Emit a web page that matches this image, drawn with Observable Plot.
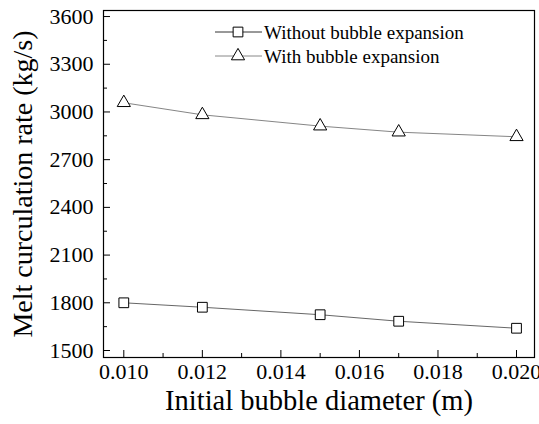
<!DOCTYPE html>
<html>
<head>
<meta charset="utf-8">
<script src="https://cdn.jsdelivr.net/npm/d3@7"></script>
<script src="https://cdn.jsdelivr.net/npm/@observablehq/plot@0.6"></script>
<style>
  body { margin: 0; background: #fff; }
  #wrap { position: relative; width: 539px; height: 424px; }
  #legend { position: absolute; left: 0; top: 0; }
  #wrap svg text { font-family: 'Liberation Serif', 'Times New Roman', serif; font-variant-numeric: normal; }
</style>
</head>
<body>
<div id="wrap"></div>
<script>
const diameters = [0.010, 0.012, 0.015, 0.017, 0.020];
const withoutExpansion = [1800, 1772, 1725, 1684, 1640];
const withExpansion = [3058, 2982, 2911, 2873, 2844];
const seriesNames = ["Without bubble expansion", "With bubble expansion"];
const xTicks = [0.010, 0.012, 0.014, 0.016, 0.018, 0.020];
const xMinorTicks = [0.011, 0.013, 0.015, 0.017, 0.019];
const yTicks = [1500, 1800, 2100, 2400, 2700, 3000, 3300, 3600];
const yMinorTicks = [1650, 1950, 2250, 2550, 2850, 3150, 3450];

const rowsA = diameters.map((d, i) => ({x: d, y: withoutExpansion[i]}));
const rowsB = diameters.map((d, i) => ({x: d, y: withExpansion[i]}));

const W = 539, H = 424, mL = 103, mR = 5, mT = 10, mB = 67;
const fw = W - mL - mR, fh = H - mT - mB;
const font = "'Liberation Serif', 'Times New Roman', serif";

const chart = Plot.plot({
  width: W, height: H,
  marginLeft: mL, marginRight: mR, marginTop: mT, marginBottom: mB,
  style: {fontFamily: font, fontSize: "22px", color: "#000", background: "#fff"},
  x: {domain: [0.009483, 0.020458]},
  y: {domain: [1456, 3638]},
  marks: [
    Plot.axisX(xTicks, {tickSize: 0, tickPadding: 6, tickFormat: d3.format(".3f"), fontSize: 22, fontFamily: font, fontVariant: "normal", label: null}),
    Plot.axisY(yTicks, {tickSize: 0, tickPadding: 10, tickFormat: d => String(d), fontSize: 22, fontFamily: font, fontVariant: "normal", label: null}),
    Plot.ruleX(xTicks, {x: d => d, insetTop: fh - 7, stroke: "#000", strokeWidth: 1}),
    Plot.ruleX(xMinorTicks, {x: d => d, insetTop: fh - 4, stroke: "#000", strokeWidth: 1}),
    Plot.ruleY(yTicks, {y: d => d, insetRight: fw - 7, stroke: "#000", strokeWidth: 1}),
    Plot.ruleY(yMinorTicks, {y: d => d, insetRight: fw - 4, stroke: "#000", strokeWidth: 1}),
    Plot.line(rowsA, {x: "x", y: "y", stroke: "#555", strokeWidth: 0.9}),
    Plot.line(rowsB, {x: "x", y: "y", stroke: "#777", strokeWidth: 0.9}),
    Plot.dot(rowsA, {x: "x", y: "y", symbol: "square", r: 5.5, stroke: "#000", fill: "#fff", strokeWidth: 1}),
    Plot.dot(rowsB, {x: "x", y: "y", symbol: "triangle", r: 4.9, stroke: "#000", fill: "#fff", strokeWidth: 1}),
    Plot.frame({stroke: "#000", strokeWidth: 1.2}),
    Plot.text(["Initial bubble diameter (m)"], {frameAnchor: "bottom", dy: 52, text: d => d, fontSize: 28.5, fontFamily: font, fill: "#000"}),
    Plot.text(["Melt curculation rate (kg/s)"], {frameAnchor: "left", textAnchor: "middle", dx: -80, rotate: -90, text: d => d, fontSize: 28, fontFamily: font, fill: "#000"})
  ]
});

const wrap = document.getElementById("wrap");
wrap.appendChild(chart);

// Legend overlay
const leg = d3.select(wrap).append("svg")
  .attr("id", "legend").attr("width", W).attr("height", H)
  .style("pointer-events", "none");
const legendRows = [
  {name: seriesNames[0], sym: d3.symbolSquare, size: 5.5 * 5.5 * Math.PI, line: "#333", cy: 32},
  {name: seriesNames[1], sym: d3.symbolTriangle, size: 4.9 * 4.9 * Math.PI, line: "#888", cy: 56}
];
legendRows.forEach(r => {
  leg.append("line").attr("x1", 215).attr("x2", 262).attr("y1", r.cy).attr("y2", r.cy)
    .attr("stroke", r.line).attr("stroke-width", 1);
  leg.append("path").attr("d", d3.symbol(r.sym, r.size)())
    .attr("transform", `translate(238,${r.cy})`)
    .attr("fill", "#fff").attr("stroke", "#000").attr("stroke-width", 1);
  leg.append("text").attr("x", 264).attr("y", r.cy).attr("dy", "0.35em")
    .attr("font-family", font).attr("font-size", 19).attr("fill", "#000").text(r.name);
});
</script>
</body>
</html>
